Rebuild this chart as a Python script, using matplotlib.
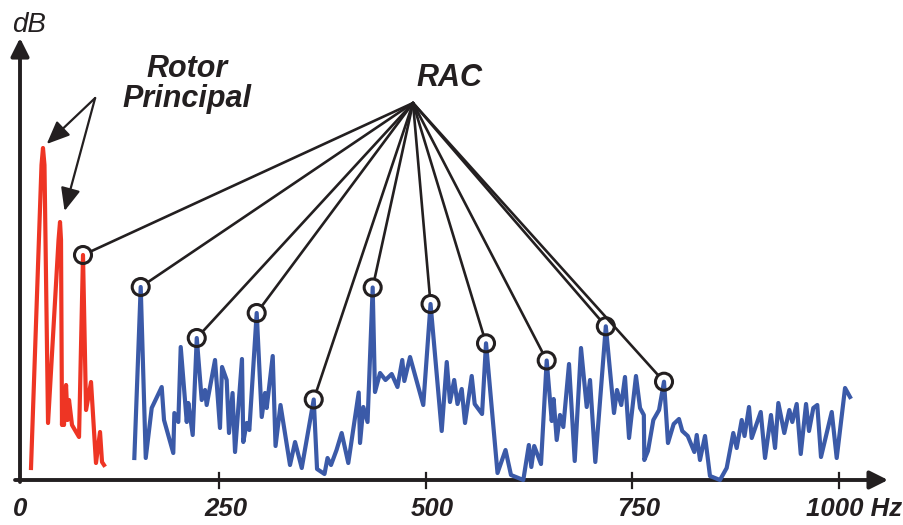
import matplotlib
matplotlib.use("Agg")
import matplotlib.pyplot as plt

plt.rcParams['font.family'] = ['Liberation Sans', 'DejaVu Sans']

# main rotor spectrum (red), Hz / dB
rotor_hz = [22.6, 35.3, 37.1, 38.9, 43.2, 55.9, 57.7, 58.9, 60.1, 60.7, 62.5, 65.0,
            66.8, 68.6, 72.2, 80.7, 85.5, 89.2, 95.2, 101.2, 106.1, 108.5, 110.9]
rotor_db = [1.2, 31.5, 33.2, 31.5, 5.7, 24.0, 25.8, 24.0, 5.5, 8.7, 5.5, 9.5,
            6.0, 8.0, 5.5, 4.3, 22.5, 7.0, 9.8, 1.7, 4.8, 1.8, 1.5]

# tail rotor spectrum (blue)
tail_hz = [147.6, 155.3, 161.4, 168.6, 180.7, 183.5, 194.7, 196.0, 200.8, 203.7,
           211.0, 212.9, 218.2, 223.1, 229.1, 233.1, 235.1, 245.2, 251.2, 253.7,
           259.3, 262.1, 266.4, 269.4, 277.8, 279.4, 283.5, 286.7, 295.6, 301.7,
           305.7, 307.7, 315.0, 318.4, 324.4, 335.9, 342.0, 350.1, 364.6, 368.6,
           377.6, 381.3, 385.5, 392.2, 398.4, 406.4, 419.0, 420.6, 424.6, 429.7,
           435.9, 438.7, 444.8, 451.4, 458.9, 465.9, 471.7, 474.2, 481.1, 497.1,
           505.9, 519.4, 525.5, 529.4, 534.5, 538.5, 543.6, 547.6, 555.7, 559.3,
           568.2, 573.0, 586.9, 596.6, 603.2, 618.1, 624.8, 627.8, 631.3, 639.5,
           646.4, 652.5, 654.8, 658.5, 662.5, 666.5, 673.4, 680.3, 687.9, 694.8,
           698.8, 705.2, 717.9, 727.8, 731.4, 736.6, 741.1, 746.0, 754.4, 759.3,
           763.9, 764.5, 768.9, 775.4, 782.3, 788.3, 793.1, 800.0, 806.4, 810.4,
           817.0, 825.0, 827.9, 831.8, 837.9, 843.9, 856.0, 864.1, 872.1, 876.2,
           882.3, 885.7, 891.1, 894.4, 905.3, 910.5, 917.7, 922.6, 926.6, 933.8,
           939.9, 943.5, 948.8, 953.7, 960.1, 963.7, 968.9, 973.7, 978.2, 991.2,
           997.2, 1007.3, 1013.3]
tail_db = [2.2, 19.3, 2.2, 7.2, 9.3, 6.0, 2.7, 6.7, 5.8, 13.3,
           5.8, 7.7, 4.5, 14.2, 8.0, 9.0, 7.5, 12.0, 5.2, 11.3,
           10.0, 4.7, 8.7, 2.8, 12.1, 3.8, 5.7, 5.0, 16.7, 6.3,
           8.7, 7.2, 12.4, 3.4, 7.5, 1.5, 3.8, 1.2, 8.05, 1.1,
           0.6, 2.2, 1.5, 3.0, 4.7, 1.7, 8.75, 3.7, 7.3, 5.8,
           19.25, 8.8, 10.7, 10.0, 10.6, 9.3, 12.0, 9.9, 12.3, 7.5,
           17.6, 4.9, 11.8, 7.8, 10.0, 7.6, 9.1, 5.7, 10.4, 7.6,
           6.6, 13.67, 0.7, 3.0, 0.5, 0.0, 3.5, 1.3, 3.4, 1.6,
           11.95, 5.9, 8.1, 4.0, 6.5, 5.3, 11.6, 1.9, 13.2, 7.3,
           10.0, 1.8, 15.37, 6.7, 9.0, 7.5, 10.3, 4.2, 10.4, 7.2,
           6.5, 2.0, 2.9, 6.0, 7.0, 9.83, 3.7, 5.6, 6.1, 4.9,
           4.4, 2.8, 4.5, 2.0, 4.4, 0.4, 0.0, 1.2, 4.7, 3.2,
           6.0, 4.4, 7.3, 4.2, 6.8, 2.2, 6.5, 3.2, 7.7, 4.7,
           7.0, 5.8, 7.6, 2.6, 7.6, 4.9, 7.2, 7.5, 2.3, 6.8,
           2.2, 9.2, 8.3]

# peaks marked as RAC
rac_hz = [85.5, 155.3, 223.1, 295.6, 364.6, 435.9, 505.9, 573.0, 646.4, 717.9, 788.3]
rac_db = [22.5, 19.3, 14.2, 16.7, 8.05, 19.25, 17.6, 13.67, 11.95, 15.37, 9.83]

# where the "Rotor Principal" arrows point
main_tip_hz = [41.6, 63.2]
main_tip_db = [33.6, 26.9]

tick_hz = [250, 500, 750, 1000]
tick_labels = ['250', '500', '750', '1000 Hz']

dark = '#231f20'
red = '#ee3524'
blue = '#3b5aa8'

fig = plt.figure(figsize=(9.04, 5.25), dpi=100)
ax = fig.add_axes([0, 0, 1, 1])
ax.axis('off')
ax.set_xlim(-14.9, 1078.6)
ax.set_ylim(-4.5, 48.0)

y_axis_hz = 9.3

# axes with arrow heads
ax.annotate('', xy=(y_axis_hz, 44.2), xytext=(y_axis_hz, -0.2),
            arrowprops=dict(arrowstyle='-|>,head_length=1.1,head_width=0.55',
                            mutation_scale=10, lw=2.8, color=dark,
                            shrinkA=0, shrinkB=0))
ax.annotate('', xy=(1059.3, 0), xytext=(3.3, 0),
            arrowprops=dict(arrowstyle='-|>,head_length=1.1,head_width=0.55',
                            mutation_scale=10, lw=2.8, color=dark,
                            shrinkA=0, shrinkB=0))
for t in tick_hz:
    ax.plot([t, t], [0.7, -0.8], color=dark, lw=1.6)

lab_kw = dict(fontsize=18.5, fontweight='bold', style='italic', color=dark,
              va='center')
ax.text(y_axis_hz, -2.9, '0', ha='center', **lab_kw)
for t, lab in zip(tick_hz[:-1], tick_labels[:-1]):
    ax.text(t + 8, -2.9, lab, ha='center', **lab_kw)
ax.text(tick_hz[-1] - 40, -2.9, tick_labels[-1], ha='left', **lab_kw)

ax.text(-0.5, 44.8, 'dB', fontsize=20, style='italic', color=dark,
        ha='left', va='baseline')

# spectra
ax.plot(rotor_hz, rotor_db, color=red, lw=3.0, solid_joinstyle='round', zorder=3)
ax.plot(tail_hz, tail_db, color=blue, lw=3.0, solid_joinstyle='round', zorder=3)

# RAC annotations
hub = (484.7, 37.7)
for h, d in zip(rac_hz, rac_db):
    ax.annotate('', xy=(h, d), xytext=hub,
                arrowprops=dict(arrowstyle='-', lw=1.9, color=dark,
                                shrinkA=0, shrinkB=6.6))
ax.scatter(rac_hz, rac_db, s=150, facecolors='none', edgecolors=dark,
           linewidths=2.2, zorder=4)
ax.text(528.2, 40.2, 'RAC', fontsize=22, fontweight='bold', style='italic',
        color=dark, ha='center', va='center')

# main rotor annotation
start = (100.2, 38.2)
for tip in zip(main_tip_hz, main_tip_db):
    ax.annotate('', xy=tip, xytext=start,
                arrowprops=dict(arrowstyle='-|>,head_length=1.4,head_width=0.6',
                                mutation_scale=10, lw=1.6, color=dark,
                                shrinkA=0, shrinkB=0))
ax.text(211.0, 39.6, 'Rotor\nPrincipal', fontsize=22, fontweight='bold',
        style='italic', color=dark, ha='center', va='center',
        multialignment='center', linespacing=1.0)

fig.savefig('out.png', dpi=100)
